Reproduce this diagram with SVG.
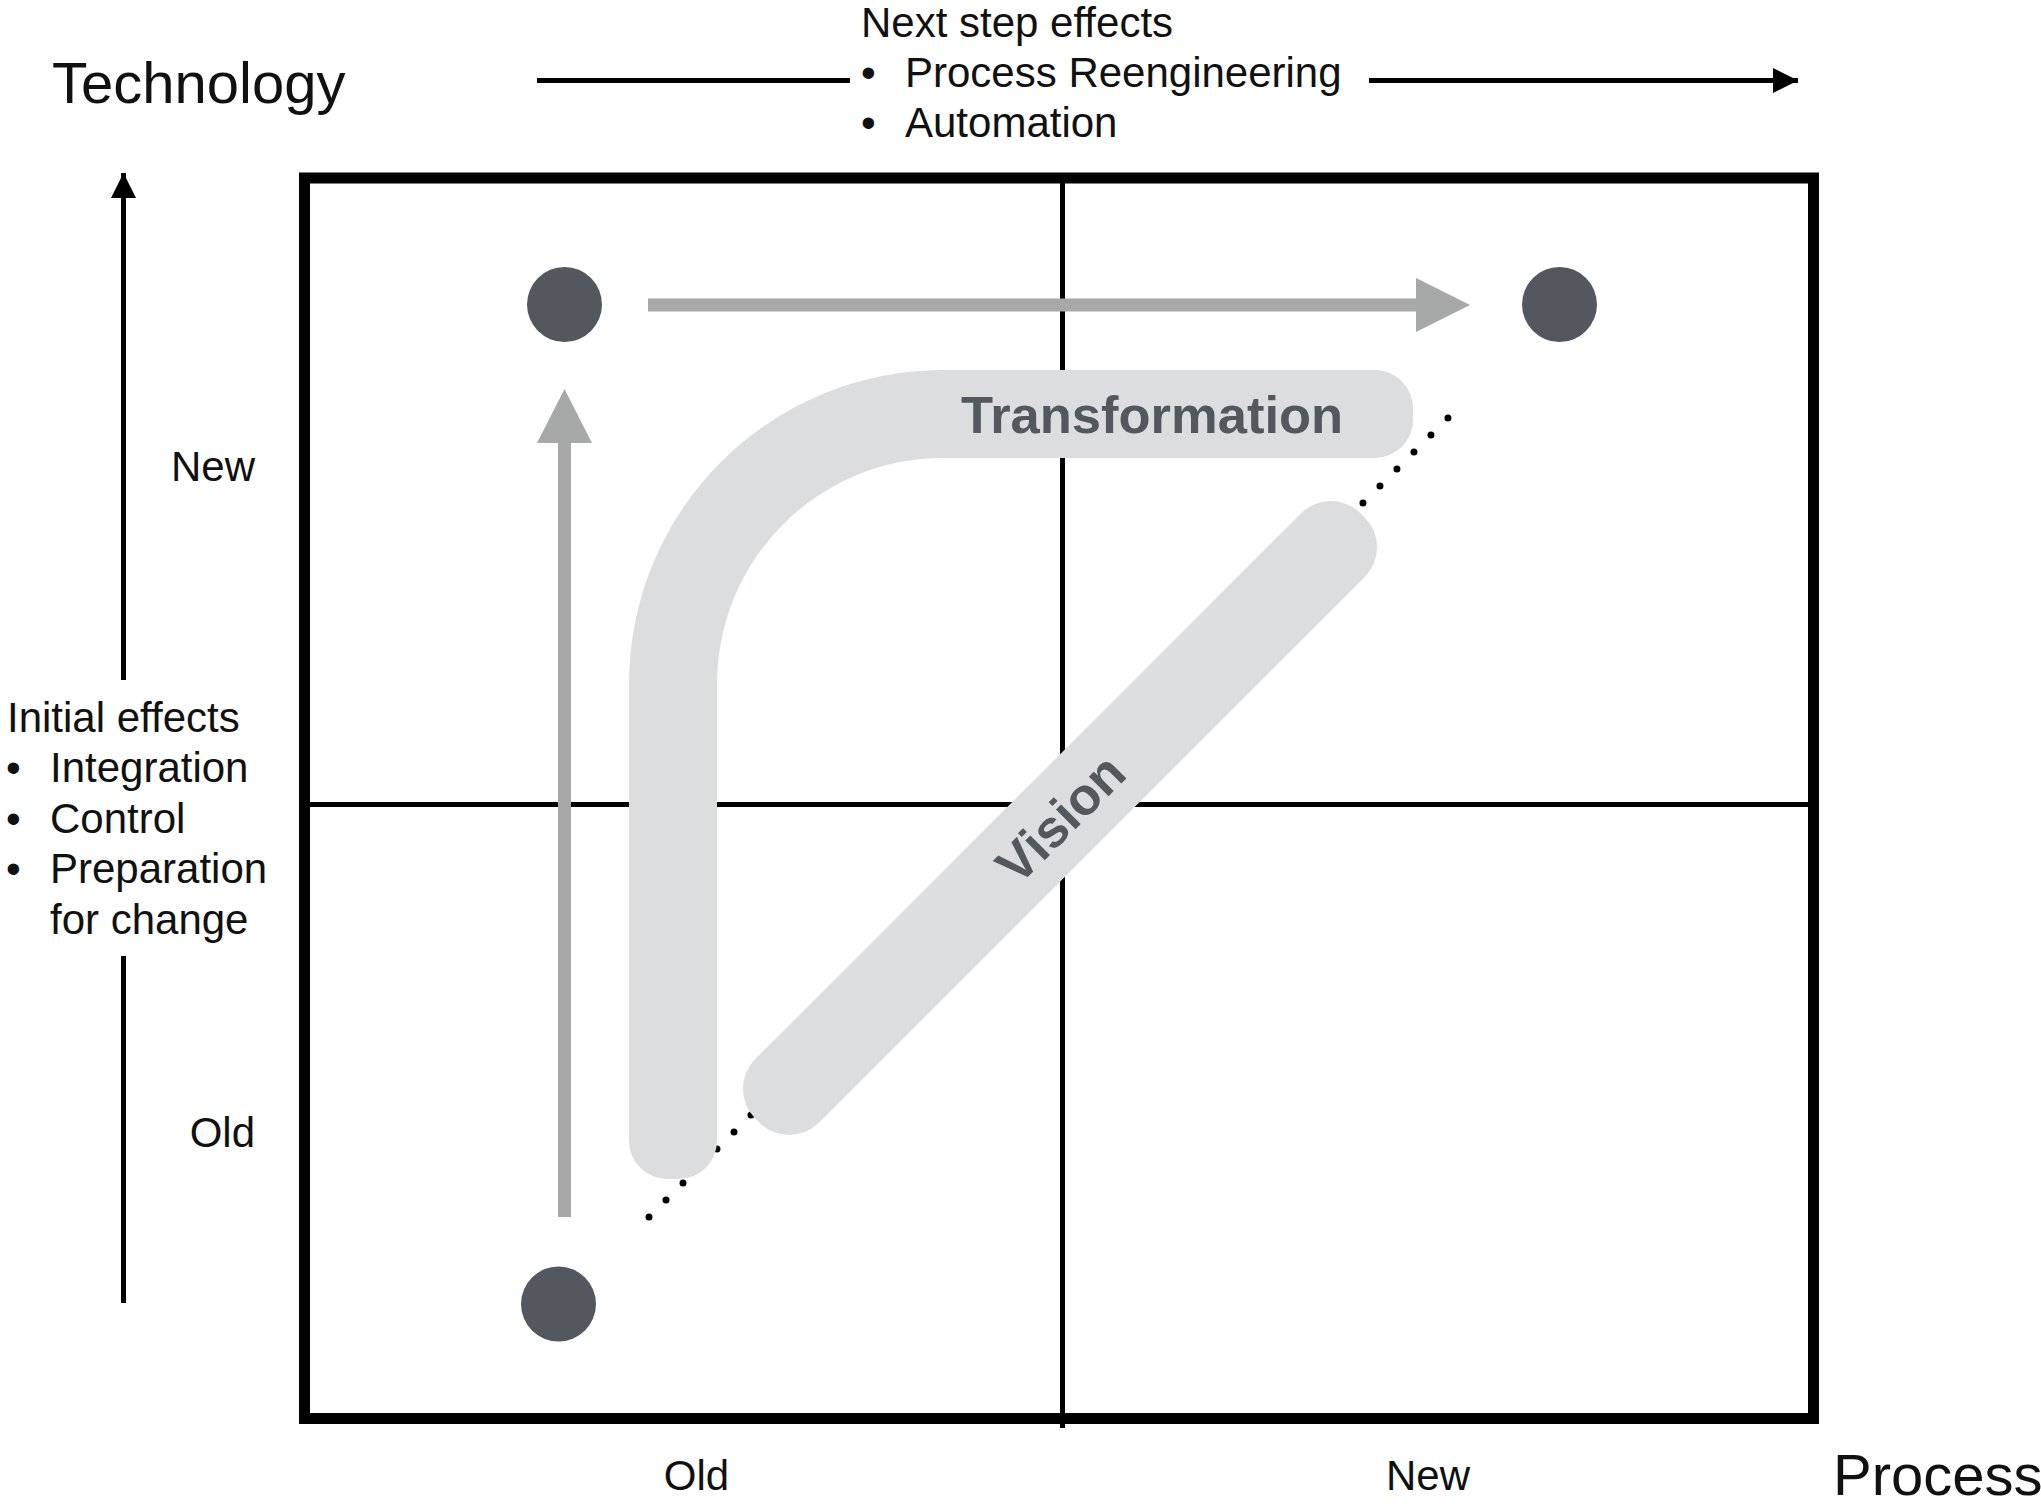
<svg xmlns="http://www.w3.org/2000/svg" width="2041" height="1504" viewBox="0 0 2041 1504">
<style>
.t{font-family:"Liberation Sans",Arial,sans-serif;fill:#111;}
.b{font-family:"Liberation Sans",Arial,sans-serif;font-weight:bold;fill:#53575e;}
.ax{stroke:#000;stroke-width:5;fill:none;}
.grid{stroke:#000;stroke-width:5;fill:none;}
.band{fill:#dcdddf;}
.dot{fill:#53575e;}
.garrow{fill:#a6a9a8;}
</style>
<defs>
<marker id="ah" viewBox="0 0 10 10" refX="10" refY="5" markerWidth="5" markerHeight="5" markerUnits="strokeWidth" orient="auto">
<path d="M0,0 L10,5 L0,10 Z" fill="#000"/>
</marker>
</defs>
<rect width="2041" height="1504" fill="#fff"/>

<g id="frame">
<rect x="304.5" y="178" width="1509" height="1240.5" fill="none" stroke="#000" stroke-width="11"/>
<line class="grid" x1="1062.5" y1="178" x2="1062.5" y2="1428"/>
<line class="grid" x1="304.5" y1="804.5" x2="1813.5" y2="804.5"/>
</g>

<g id="axis-labels">
<text class="t" x="52" y="103" font-size="58">Technology</text>
<text class="t" x="1833" y="1495" font-size="58">Process</text>
<text class="t" x="255" y="481" font-size="42" text-anchor="end">New</text>
<text class="t" x="255" y="1147" font-size="42" text-anchor="end">Old</text>
<text class="t" x="696.5" y="1490" font-size="42" text-anchor="middle">Old</text>
<text class="t" x="1428" y="1490" font-size="42" text-anchor="middle">New</text>
</g>

<g id="next-step-effects">
<text class="t" x="861" y="37" font-size="42">Next step effects</text>
<text class="t" x="861" y="87" font-size="42">•</text>
<text class="t" x="905" y="87" font-size="42">Process Reengineering</text>
<text class="t" x="861" y="137" font-size="42">•</text>
<text class="t" x="905" y="137" font-size="42">Automation</text>
</g>

<g id="initial-effects">
<text class="t" x="7" y="732" font-size="42">Initial effects</text>
<text class="t" x="6" y="782" font-size="42">•</text>
<text class="t" x="50" y="782" font-size="42">Integration</text>
<text class="t" x="6" y="833" font-size="42">•</text>
<text class="t" x="50" y="833" font-size="42">Control</text>
<text class="t" x="6" y="883" font-size="42">•</text>
<text class="t" x="50" y="883" font-size="42">Preparation</text>
<text class="t" x="50" y="934" font-size="42">for change</text>
</g>

<g id="connectors">
<line class="ax" x1="537" y1="80.5" x2="850" y2="80.5"/>
<line class="ax" x1="1369" y1="80.5" x2="1798" y2="80.5" marker-end="url(#ah)"/>
<line class="ax" x1="123.5" y1="680" x2="123.5" y2="173" marker-end="url(#ah)"/>
<line class="ax" x1="123.5" y1="956" x2="123.5" y2="1303"/>
<line x1="649" y1="1217" x2="1448" y2="418" stroke="#000" stroke-width="7" stroke-linecap="round" stroke-dasharray="0 24.04"/>
</g>

<g id="transformation">
<path class="band" d="M629 684 A314 314 0 0 1 943 370 L1375 370 A38 38 0 0 1 1413 408 L1413 420 A38 38 0 0 1 1375 458 L943 458 A226 226 0 0 0 717 684 L717 1141 A38 38 0 0 1 679 1179 L667 1179 A38 38 0 0 1 629 1141 Z"/>
<text class="b" x="961" y="433" font-size="52.5">Transformation</text>
</g>

<g id="vision">
<rect class="band" x="632" y="773" width="856" height="90" rx="42" transform="rotate(-45 1060 818)"/>
<text class="b" x="1060" y="837" font-size="52.5" text-anchor="middle" transform="rotate(-45 1060 818)">Vision</text>
</g>

<g id="gray-arrows">
<rect class="garrow" x="558" y="440" width="13" height="777"/>
<path class="garrow" d="M564.5 389 L592 443 L537 443 Z"/>
<rect class="garrow" x="648" y="298.5" width="770" height="13"/>
<path class="garrow" d="M1470 305 L1416 278 L1416 332 Z"/>
</g>

<g id="node-old-old"><circle class="dot" cx="558.5" cy="1304" r="37.5"/></g>
<g id="node-old-new"><circle class="dot" cx="564.5" cy="304.5" r="37.5"/></g>
<g id="node-new-new"><circle class="dot" cx="1559.5" cy="304.5" r="37.5"/></g>
</svg>
